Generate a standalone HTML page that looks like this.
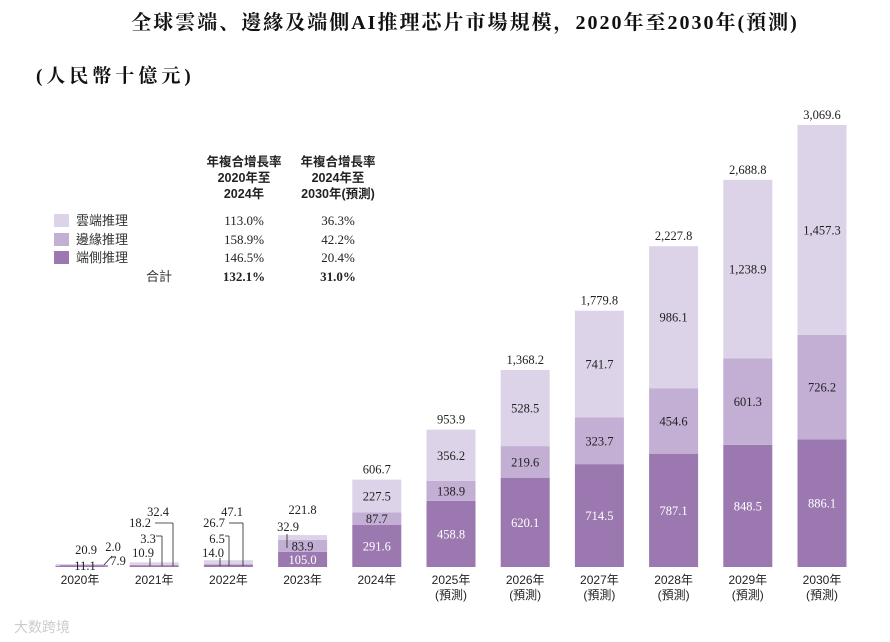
<!DOCTYPE html>
<html><head><meta charset="utf-8"><style>
body{margin:0;background:#fff;width:890px;height:642px;overflow:hidden}
svg{display:block}
.serif{font-family:"Liberation Serif","Noto Serif CJK SC",serif}
.sans{font-family:"Liberation Sans","Noto Sans CJK TC",sans-serif}
</style></head><body>
<svg id="c" width="890" height="642" viewBox="0 0 890 642" xmlns="http://www.w3.org/2000/svg">
<text x="465" y="29" text-anchor="middle" class="serif" font-size="20" font-weight="bold" letter-spacing="2" fill="#111">全球雲端、邊緣及端側AI推理芯片市場規模，2020年至2030年(預測)</text>
<text x="36" y="82" class="serif" font-size="19" font-weight="bold" letter-spacing="4" fill="#111">(人民幣十億元)</text>
<g class="sans" font-size="12.5" font-weight="bold" fill="#222" text-anchor="middle">
<text x="244" y="166">年複合增長率</text><text x="244" y="182">2020年至</text><text x="244" y="198">2024年</text>
<text x="338" y="166">年複合增長率</text><text x="338" y="182">2024年至</text><text x="338" y="198">2030年(預測)</text>
</g>
<g>
<rect x="54" y="214" width="15" height="13" fill="#ddd3e8"/>
<rect x="54" y="233" width="15" height="13" fill="#c3afd4"/>
<rect x="54" y="251" width="15" height="13" fill="#9b78b0"/>
<g class="sans" font-size="13" fill="#333"><text x="76" y="225">雲端推理</text><text x="76" y="244">邊緣推理</text><text x="76" y="262">端側推理</text><text x="146" y="281">合計</text></g>
<g class="serif" font-size="13" fill="#222" text-anchor="middle">
<text x="244" y="225">113.0%</text><text x="338" y="225">36.3%</text>
<text x="244" y="244">158.9%</text><text x="338" y="244">42.2%</text>
<text x="244" y="262">146.5%</text><text x="338" y="262">20.4%</text>
<text x="244" y="281" font-weight="bold">132.1%</text><text x="338" y="281" font-weight="bold">31.0%</text>
</g></g>
<g id="bars"></g>
<g id="small" class="serif" font-size="12.5" fill="#222">
<line x1="60" y1="566" x2="108" y2="566" stroke="#9b78b0" stroke-width="1.5"/>
<text x="86" y="554" text-anchor="middle">20.9</text>
<text x="85" y="570" text-anchor="middle">11.1</text>
<text x="113" y="551" text-anchor="middle">2.0</text>
<text x="118" y="565" text-anchor="middle">7.9</text>
<line x1="104" y1="565" x2="112" y2="556" stroke="#222" stroke-width="0.8"/>
<text x="143" y="557" text-anchor="middle">10.9</text><line x1="150" y1="558" x2="150" y2="566" stroke="#222" stroke-width="0.8"/>
<text x="148" y="543" text-anchor="middle">3.3</text><line x1="156" y1="536" x2="162" y2="536" stroke="#222" stroke-width="0.8"/><line x1="162" y1="536" x2="162" y2="566" stroke="#222" stroke-width="0.8"/>
<text x="140" y="527" text-anchor="middle">18.2</text><line x1="155" y1="523" x2="173" y2="523" stroke="#222" stroke-width="0.8"/><line x1="173" y1="523" x2="173" y2="566" stroke="#222" stroke-width="0.8"/>
<text x="158" y="516" text-anchor="middle">32.4</text>
<text x="213" y="557" text-anchor="middle">14.0</text><line x1="220" y1="558" x2="220" y2="566" stroke="#222" stroke-width="0.8"/>
<text x="217" y="543" text-anchor="middle">6.5</text><line x1="225" y1="536" x2="229" y2="536" stroke="#222" stroke-width="0.8"/><line x1="229" y1="536" x2="229" y2="566" stroke="#222" stroke-width="0.8"/>
<text x="214" y="527" text-anchor="middle">26.7</text><line x1="229" y1="523" x2="243" y2="523" stroke="#222" stroke-width="0.8"/><line x1="243" y1="523" x2="243" y2="566" stroke="#222" stroke-width="0.8"/>
<text x="232" y="516" text-anchor="middle">47.1</text>
<text x="288" y="531" text-anchor="middle">32.9</text><line x1="287" y1="534" x2="287" y2="548" stroke="#222" stroke-width="0.8"/>
</g>
<text x="14" y="632" class="sans" font-size="14" fill="#ccc">大数跨境</text>
</svg>
<script>
const years=["2020年","2021年","2022年","2023年","2024年","2025年","2026年","2027年","2028年","2029年","2030年"];
const forecast=[false,false,false,false,false,true,true,true,true,true,true];
const device=[7.9,10.9,14.0,105.0,291.6,458.8,620.1,714.5,787.1,848.5,886.1];
const edge=[2.0,3.3,6.5,83.9,87.7,138.9,219.6,323.7,454.6,601.3,726.2];
const cloud=[11.1,18.2,26.7,32.9,227.5,356.2,528.5,741.7,986.1,1238.9,1457.3];
const totals=["20.9","32.4","47.1","221.8","606.7","953.9","1,368.2","1,779.8","2,227.8","2,688.8","3,069.6"];
const NS="http://www.w3.org/2000/svg";
const base=567, scale=442/3069.6, x0=80, step=74.2, bw=49;
const xs=i=>x0+i*step, ys=v=>v*scale;
const g=document.getElementById('bars');
function mk(t,a){const e=document.createElementNS(NS,t);for(const k in a)e.setAttribute(k,a[k]);return e;}
const fmt=v=>v.toLocaleString('en-US',{minimumFractionDigits:1,maximumFractionDigits:1});
const series=[["device",device,"#9b78b0","#fff"],["edge",edge,"#c3afd4","#222"],["cloud",cloud,"#ddd3e8","#222"]];
years.forEach((y,i)=>{
  let acc=0;const cx=xs(i);
  series.forEach(([nm,arr,col,tc])=>{
    const h=ys(arr[i]);const top=base-ys(acc)-h;
    const r=mk('rect',{x:cx-bw/2,y:top,width:bw,height:h,fill:col});
    
    
    g.appendChild(r);
    if(i>=3 && !(i==3&&nm=="cloud")){
      const t=mk('text',{x:cx,y:top+h/2+4.5,'text-anchor':'middle','font-size':'12.5',fill:tc,'class':'serif'});
      t.textContent=fmt(arr[i]);
      
      
      g.appendChild(t);
    }
    acc+=arr[i];
  });
  if(i>=3){
    const t=mk('text',{x:cx,y:base-ys(acc)-(i==3?21:6),'text-anchor':'middle','font-size':'12.5',fill:'#222','class':'serif'});
    t.textContent=totals[i];
    
    
    g.appendChild(t);
  }
  const l=mk('text',{x:cx,y:584,'text-anchor':'middle','font-size':'12',fill:'#222','class':'sans'});
  l.textContent=y;
  
  
  g.appendChild(l);
  if(forecast[i]){
    const f=mk('text',{x:cx,y:599,'text-anchor':'middle','font-size':'12',fill:'#222','class':'sans'});
    f.textContent='(預測)';
    
    
    g.appendChild(f);
  }
});
</script>
</body></html>
